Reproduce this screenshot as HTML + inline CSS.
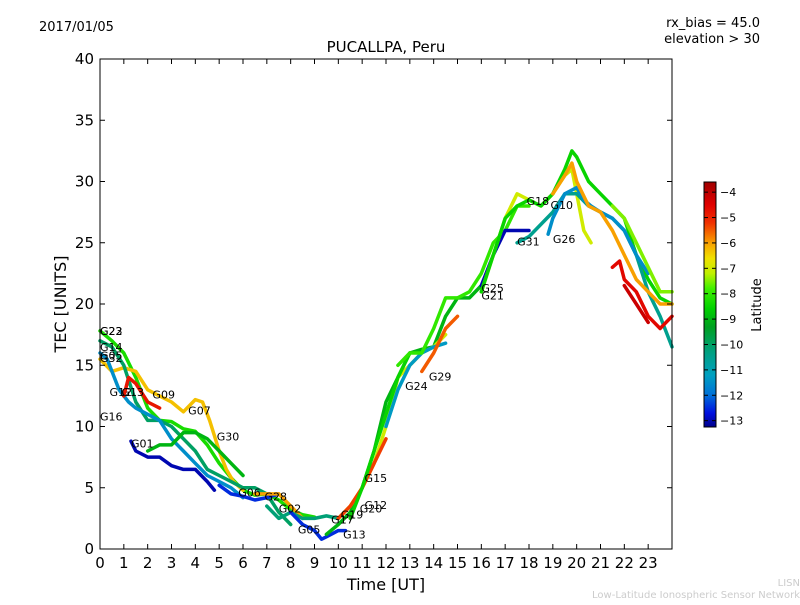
<!DOCTYPE html>
<html><head><meta charset="utf-8"><style>
body{margin:0;background:#fff;}
svg text{font-family:"DejaVu Sans","Liberation Sans",sans-serif;}
</style></head><body>
<svg id="chart" width="800" height="600" xmlns="http://www.w3.org/2000/svg">
<rect width="800" height="600" fill="#fff"/>
<text x="39" y="31" font-size="13">2017/01/05</text>
<text x="760" y="27" font-size="13" text-anchor="end">rx_bias = 45.0</text>
<text x="760" y="43" font-size="13" text-anchor="end">elevation &gt; 30</text>
<text x="386" y="52" font-size="15" text-anchor="middle">PUCALLPA, Peru</text>
<g id="plot"></g>
<rect x="100" y="59" width="572" height="490" fill="none" stroke="#000" stroke-width="1"/>
<g id="axes"></g>
<text x="386" y="590" font-size="16" text-anchor="middle">Time [UT]</text>
<text transform="translate(66,304) rotate(-90)" font-size="16" text-anchor="middle">TEC [UNITS]</text>
<defs><linearGradient id="cmapgrad" x1="0" y1="1" x2="0" y2="0"></linearGradient></defs>
<g id="cbar">
<rect x="704" y="182" width="12" height="245" fill="url(#cmapgrad)" stroke="#000" stroke-width="1"/>
</g>
<text transform="translate(761,305) rotate(-90)" font-size="13" text-anchor="middle">Latitude</text>
<text x="800" y="586" font-size="10" fill="#ccc" text-anchor="end">LISN</text>
<text x="800" y="598" font-size="10" fill="#ccc" text-anchor="end">Low-Latitude Ionospheric Sensor Network</text>
</svg>
<script>
const xTicks=[0,1,2,3,4,5,6,7,8,9,10,11,12,13,14,15,16,17,18,19,20,21,22,23];
const yTicks=[0,5,10,15,20,25,30,35,40];
const cbTicks=[-4,-5,-6,-7,-8,-9,-10,-11,-12,-13];
const sats=["A","B","C","D","E","F","H","I","J","K","L","M","N","O","P","Q","R","S","T","U","V","W","X","Y","Z","Z2","AA"];
const times={
A:[0,0.5,1,1.5,2,2.5,3,3.5,4,4.5,5,5.5,6,6.5,7,7.5,8,8.5,9],
B:[0,0.5,1,1.5,2,2.5,3,3.5,4,4.3,4.6,5,5.3,5.6,6],
C:[0,0.5,1,1.5,2,2.5,3,3.5,4,4.5,5,5.5,6,6.5,7,7.5,8],
D:[0,0.3,0.8,1.2,1.5,2,2.5,3,3.5,4,4.5,5,5.5,6],
E:[1.3,1.5,2,2.5,3,3.5,4,4.5,4.8],
F:[1.0,1.2,1.5,2,2.5],
H:[2,2.5,3,3.5,4,4.5,5,5.5,6],
I:[5,5.5,6,6.5,7,7.5],
J:[6.5,7,7.5,8,8.5],
K:[7,7.5,8,8.5,9,9.5,10],
L:[8,8.5,9,9.3,9.5,10,10.3],
M:[9.5,10,10.5,11,11.5,12,12.5,13,13.5,14,14.5,15,15.5,16],
N:[10,10.5,11,11.5,12,12.5,13,13.5,14,14.5],
O:[10,10.5,11,11.5,12],
P:[10.5,11,11.5,12,12.5,13],
Q:[12,12.5,13,13.5,14,14.5],
R:[13.5,14,14.5,15],
S:[12.5,13,13.5,14,14.5,15,15.5,16,16.5,17,17.5,18],
T:[16,16.5,17,17.5,18],
U:[16,16.5,17,17.5,18,18.5,19,19.5,19.8,20,20.3,20.6],
V:[16,16.5,17,17.5,18,18.5,19,19.5,19.8,20,20.5,21,21.5,22,22.5,23,23.5,24],
W:[17.5,18,18.5,19,19.5,20,20.5,21,21.5,22,22.5,23,23.5,24],
X:[18.8,19,19.5,20,20.3,20.6,21,21.5,22,22.5,23],
Y:[19,19.5,19.8,20,20.5,21,21.5,22,22.5,23,23.5,24],
Z:[21.5,21.8,22,22.5,23,23.5,24],
Z2:[22,22.5,23],
AA:[21.5,22,22.5,23,23.5,24]};
const tecs={
A:[17.8,17,16,14,11.5,10.5,10.4,9.8,9.6,8.5,7,5.8,4.8,4.4,4.5,4,3.2,2.8,2.6],
B:[15.5,14.5,14.8,14.5,13,12.5,12,11.2,12.2,12,10.5,8,6.5,5.5,4.8],
C:[17,16.5,15,12,10.5,10.5,10,9,8,6.5,6,5.5,5,5,4.5,3,2],
D:[16,15.5,13,12,11.5,11,10.5,9,8,7,6,5.5,5,4.2],
E:[8.8,8,7.5,7.5,6.8,6.5,6.5,5.5,4.8],
F:[12.5,14,13.5,12,11.5],
H:[8,8.5,8.5,9.5,9.5,9,8,7,6],
I:[5.2,4.5,4.3,4,4.2,4.5],
J:[4.5,4.5,4.5,3.5,2.5],
K:[3.5,2.5,3,2.5,2.5,2.7,2.5],
L:[3,2,1.5,0.8,1,1.5,1.5],
M:[1.2,2,3,5,8,12,14,16,16.3,16.5,19,20.5,20.5,21.5],
N:[2.5,3.5,5,7,10,14,15,16,16.5,17.5],
O:[2.5,3.5,5,7,9],
P:[2.5,5,8,11,14,16],
Q:[10,13,15,16,16.5,16.8],
R:[14.5,16,18,19],
S:[15,16,16,18,20.5,20.5,21,22.5,25,26,28,28],
T:[21.5,24,26,26,26],
U:[21,24,27,29,28.5,28,29,30.5,31,29,26,25],
V:[21,24,27,28,28.5,28,29,31,32.5,32,30,29,28,27,24,22,20.5,20],
W:[25,25.5,26.5,27.5,29,29,28,27.5,27,26,24,21,19,16.5],
X:[25.7,27,29,29.5,28.5,28,27.5,27,26,24,22.5],
Y:[29,30.5,31.5,30,28,27.5,26,24,22,21,20,20],
Z:[23,23.5,22,21,19,18,19],
Z2:[21.5,20,18.5],
AA:[28,27,25,23,21,21]};
const lats={A:-8.3,B:-6.3,C:-10,D:-11.5,E:-13,F:-4.8,H:-9,I:-12.5,J:-6,K:-10.2,L:-12.5,M:-9,N:-7,O:-5.3,P:-8.5,Q:-11.3,R:-5.5,S:-8,T:-13,U:-7,V:-8.5,W:-10.5,X:-11.5,Y:-6,Z:-4.6,Z2:-4.2,AA:-7.5};
const labelNames=["G23","G22","G14","G32","G05b","G12","G13","G09","G16","G07","G01","G30","G06","G28","G02","G05","G17","G19","G13","G15","G12","G20","G24","G29","G25","G21","G31","G18","G10","G26"];
const labelT=[0,0,0,0,0,0.4,0.9,2.2,0,3.7,1.3,4.9,5.8,6.9,7.5,8.3,9.7,10.1,10.2,11.1,11.1,10.9,12.8,13.8,16,16,17.5,17.9,18.9,19];
const labelV=[17.8,17.8,16.5,15.6,15.8,12.8,12.8,12.6,10.8,11.3,8.6,9.2,4.6,4.3,3.3,1.6,2.4,2.8,1.2,5.8,3.6,3.3,13.3,14.1,21.3,20.7,25.1,28.4,28.1,25.3];
const X0=100,X1=672,Y0=549,Y1=59;
const xs=t=>X0+t*(X1-X0)/24, ys=v=>Y0-v*(Y0-Y1)/40;
const cmin=-13.25,cmax=-3.6;
const cy=l=>427-(l-cmin)/(cmax-cmin)*245;
const stopL=[-13.25,-12.7,-12,-11.2,-10.3,-9.3,-8.6,-7.8,-7.2,-6.6,-6,-5.2,-4.5,-3.6];
const stopC=[[0,0,138],[0,16,224],[0,112,216],[0,160,192],[0,160,128],[0,160,32],[0,208,0],[64,240,0],[192,240,0],[240,224,0],[248,160,0],[240,48,0],[224,0,0],[160,0,0]];
function cmap(l){if(l<=stopL[0])return rgb(stopC[0]);for(let i=1;i<stopL.length;i++){if(l<=stopL[i]){const f=(l-stopL[i-1])/(stopL[i]-stopL[i-1]);return rgb(stopC[i-1].map((c,k)=>c+f*(stopC[i][k]-c)));}}return rgb(stopC[stopC.length-1]);}
function rgb(c){return `rgb(${c.map(Math.round).join(',')})`;}
const NS="http://www.w3.org/2000/svg";
const grad=document.getElementById('cmapgrad');
stopL.forEach((l,i)=>{const s=document.createElementNS(NS,'stop');s.setAttribute('offset',((l-cmin)/(cmax-cmin)).toFixed(3));s.setAttribute('stop-color',rgb(stopC[i]));grad.appendChild(s);});
const plot=document.getElementById('plot'),axes=document.getElementById('axes'),cbar=document.getElementById('cbar');
function mk(tag,attrs,parent){const e=document.createElementNS(NS,tag);for(const k in attrs)e.setAttribute(k,attrs[k]);parent.appendChild(e);return e;}
sats.forEach(s=>{const T=times[s],V=tecs[s];const pts=T.map((t,i)=>xs(t).toFixed(1)+','+ys(V[i]).toFixed(1)).join(' ');
const p=mk('polyline',{points:pts,fill:'none',stroke:cmap(lats[s]),'stroke-width':3.5,'stroke-linejoin':'round','stroke-linecap':'round'},plot);

});
labelNames.forEach((n,i)=>{const t=mk('text',{x:xs(labelT[i]),y:ys(labelV[i])+4,'font-size':11},plot);t.textContent=n.replace('b','');

});
xTicks.forEach(v=>{const x=xs(v);mk('line',{x1:x,y1:Y0,x2:x,y2:Y0-5,stroke:'#000'},axes);mk('line',{x1:x,y1:Y1,x2:x,y2:Y1+5,stroke:'#000'},axes);
const t=mk('text',{x:x,y:568,'font-size':15,'text-anchor':'middle'},axes);t.textContent=v;

});
yTicks.forEach(v=>{const y=ys(v);mk('line',{x1:X0,y1:y,x2:X0+5,y2:y,stroke:'#000'},axes);mk('line',{x1:X1,y1:y,x2:X1-5,y2:y,stroke:'#000'},axes);
const t=mk('text',{x:94,y:y+5,'font-size':15,'text-anchor':'end'},axes);t.textContent=v;

});
cbTicks.forEach(v=>{const y=cy(v);mk('line',{x1:704,y1:y,x2:708,y2:y,stroke:'#000'},cbar);mk('line',{x1:716,y1:y,x2:712,y2:y,stroke:'#000'},cbar);
const t=mk('text',{x:720,y:y+4,'font-size':11},cbar);t.textContent='\u2212'+Math.abs(v);

});
</script>
</body></html>
